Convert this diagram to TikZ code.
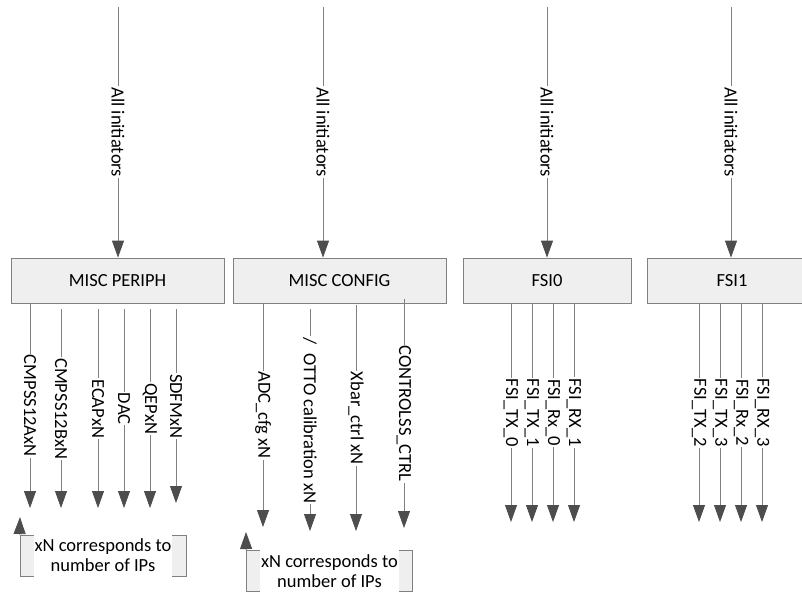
\documentclass[tikz,border=0pt]{standalone}
\usepackage{fontspec}
\setmainfont{Carlito}
\usepackage{tikz}
\usetikzlibrary{arrows.meta, positioning, calc}
\definecolor{boxfill}{HTML}{EFEFEF}
\definecolor{linegray}{HTML}{808080}
\definecolor{headgray}{HTML}{4D4D4D}
\tikzset{
    block/.style={
        rectangle,
        minimum height=45pt,
        inner sep=0pt,
        draw=linegray,
        fill=boxfill,
        line width=0.8pt
    },
    arrow/.style={
        draw=linegray,
        line width=0.8pt,
        -{Triangle[length=17pt, width=12pt, color=headgray]}
    },
    note/.style={
        rectangle,
        minimum width=166pt,
        minimum height=41pt,
        draw=linegray,
        fill=boxfill,
        line width=0.8pt
    },
    notetext/.style={
        fill=white,
        align=center,
        inner xsep=1pt,
        minimum height=48pt
    }
}
\begin{document}
\begin{tikzpicture}[
    x=1pt, y=-1pt,
    every node/.style={font=\fontsize{18.5}{20}\selectfont},
    siglabel/.style={rotate=-90, fill=white, inner xsep=1pt, inner ysep=0pt, pos=0.5}
]
\clip (0,0) rectangle (802,594);

% blocks
\node[block, minimum width=213pt] (periph) at (117.5,280.5) {MISC PERIPH};
\node[block, minimum width=213pt] (config) at (339.5,280.5) {MISC CONFIG};
\node[block, minimum width=168pt] (fsi0) at (547,280.5) {FSI0};
\node[block, minimum width=170pt] (fsi1) at (732,280.5) {FSI1};

% incoming
\coordinate (in1) at (118,7);
\coordinate (in2) at (323,7);
\coordinate (in3) at (547,7);
\coordinate (in4) at (731,7);
\draw[arrow] (in1) -- node[siglabel]{All initiators} (in1 |- periph.north);
\draw[arrow] (in2) -- node[siglabel]{All initiators} (in2 |- config.north);
\draw[arrow] (in3) -- node[siglabel]{All initiators} (in3 |- fsi0.north);
\draw[arrow] (in4) -- node[siglabel]{All initiators} (in4 |- fsi1.north);

% MISC PERIPH outputs
\foreach \x/\tip/\gap/\txt [count=\i] in {30/508/0/CMPSS12AxN, 61/508/6/CMPSS12BxN,
    98/508/6/ECAPxN, 124/508/6/DAC, 150/508/6/QEPxN, 176/503/6/SDFMxN}{
    \coordinate (pout\i) at (\x,\tip);
    \draw[arrow] ([yshift=-\gap pt]periph.south -| pout\i) -- node[siglabel]{\txt} (pout\i);
}

% MISC CONFIG outputs
\foreach \x/\tip/\gap/\txt [count=\i] in {263/527/0/ADC\_cfg xN, 310/531/6/{/\enspace OTTO calibration xN},
    356/531/2/Xbar\_ctrl xN, 404/528/-4/CONTROLSS\_CTRL}{
    \coordinate (cout\i) at (\x,\tip);
    \draw[arrow] ([yshift=-\gap pt]config.south -| cout\i) -- node[siglabel]{\txt} (cout\i);
}

% FSI outputs
\foreach \x/\txt [count=\i] in {511/FSI\_TX\_0, 532/FSI\_TX\_1, 553/FSI\_Rx\_0, 574/FSI\_RX\_1}{
    \coordinate (fa\i) at (\x,522);
    \draw[arrow] (fsi0.south -| fa\i) -- node[siglabel]{\txt} (fa\i);
}
\foreach \x/\txt [count=\i] in {699/FSI\_TX\_2, 720/FSI\_TX\_3, 741/FSI\_Rx\_2, 762/FSI\_RX\_3}{
    \coordinate (fb\i) at (\x,522);
    \draw[arrow] (fsi1.south -| fb\i) -- node[siglabel]{\txt} (fb\i);
}

% notes
\node[note] (note1) at (103,555.5) {};
\node[notetext] (ntext1) at (note1) {xN corresponds to\\number of IPs};
\coordinate (up1) at (20,517);
\draw[arrow] (note1.north west) -- (up1);

\node[note] (note2) at (329.5,571) {};
\node[notetext] (ntext2) at (note2) {xN corresponds to\\number of IPs};
\coordinate (up2) at (246,532);
\draw[arrow] (note2.north west) -- (up2);
\end{tikzpicture}
\end{document}
